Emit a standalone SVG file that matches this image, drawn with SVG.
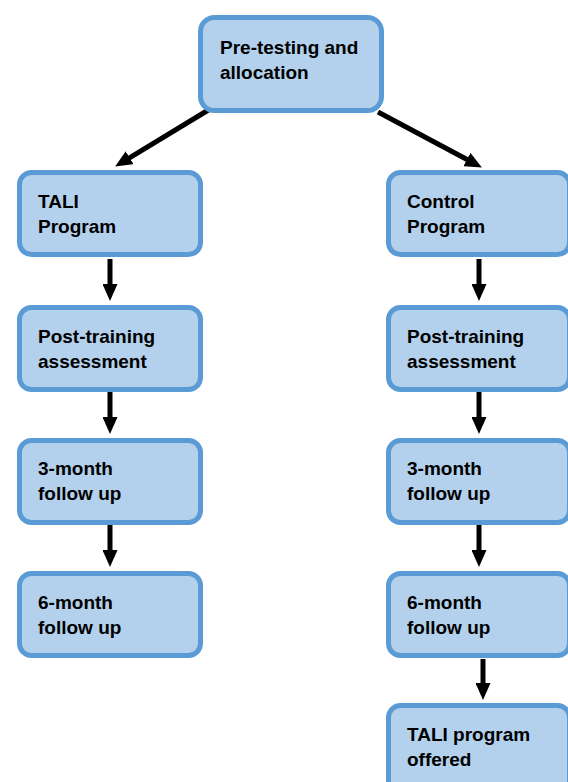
<svg xmlns="http://www.w3.org/2000/svg" width="568" height="782" viewBox="0 0 568 782">
<defs>
<style>
.box{fill:#b3d1ec;stroke:#5b9bd5;stroke-width:5}
.t{font-family:"Liberation Sans",Arial,sans-serif;font-weight:bold;font-size:19px;fill:#000}
.c{stroke:#000;stroke-width:5;fill:none}
</style>
<marker id="ah" markerWidth="3.4" markerHeight="3" refX="1.2" refY="1.5" orient="auto" markerUnits="strokeWidth">
<path d="M0,0 L3.4,1.5 L0,3 z" fill="#000"/>
</marker>
</defs>
<rect width="568" height="782" fill="#fff"/>
<g id="connectors">
<line class="c" x1="210" y1="109" x2="124.5" y2="160.8" marker-end="url(#ah)"/>
<line class="c" x1="378" y1="112" x2="472.2" y2="162.3" marker-end="url(#ah)"/>
<line class="c" x1="110" y1="259" x2="110" y2="290" marker-end="url(#ah)"/>
<line class="c" x1="110" y1="392" x2="110" y2="423" marker-end="url(#ah)"/>
<line class="c" x1="110" y1="525" x2="110" y2="556" marker-end="url(#ah)"/>
<line class="c" x1="479" y1="259" x2="479" y2="290" marker-end="url(#ah)"/>
<line class="c" x1="479" y1="392" x2="479" y2="423" marker-end="url(#ah)"/>
<line class="c" x1="479" y1="525" x2="479" y2="556" marker-end="url(#ah)"/>
<line class="c" x1="483" y1="659" x2="483" y2="689" marker-end="url(#ah)"/>
</g>
<g id="pretest">
<rect class="box" x="200.5" y="17.5" width="181" height="93" rx="14"/>
<text class="t" x="220" y="54">Pre-testing and</text>
<text class="t" x="220" y="79">allocation</text>
</g>
<g id="tali">
<rect class="box" x="19.5" y="172.5" width="181" height="82" rx="12"/>
<text class="t" x="38" y="208">TALI</text>
<text class="t" x="38" y="233">Program</text>
</g>
<g id="post-left">
<rect class="box" x="19.5" y="307.5" width="181" height="82" rx="12"/>
<text class="t" x="38" y="343">Post-training</text>
<text class="t" x="38" y="368">assessment</text>
</g>
<g id="m3-left">
<rect class="box" x="19.5" y="440.5" width="181" height="82" rx="12"/>
<text class="t" x="38" y="475">3-month</text>
<text class="t" x="38" y="500">follow up</text>
</g>
<g id="m6-left">
<rect class="box" x="19.5" y="573.5" width="181" height="82" rx="12"/>
<text class="t" x="38" y="609">6-month</text>
<text class="t" x="38" y="634">follow up</text>
</g>
<g id="control">
<rect class="box" x="388.5" y="172.5" width="181" height="82" rx="12"/>
<text class="t" x="407" y="208">Control</text>
<text class="t" x="407" y="233">Program</text>
</g>
<g id="post-right">
<rect class="box" x="388.5" y="307.5" width="181" height="82" rx="12"/>
<text class="t" x="407" y="343">Post-training</text>
<text class="t" x="407" y="368">assessment</text>
</g>
<g id="m3-right">
<rect class="box" x="388.5" y="440.5" width="181" height="82" rx="12"/>
<text class="t" x="407" y="475">3-month</text>
<text class="t" x="407" y="500">follow up</text>
</g>
<g id="m6-right">
<rect class="box" x="388.5" y="573.5" width="181" height="82" rx="12"/>
<text class="t" x="407" y="609">6-month</text>
<text class="t" x="407" y="634">follow up</text>
</g>
<g id="offered">
<rect class="box" x="388.5" y="705.5" width="181" height="90" rx="12"/>
<text class="t" x="407" y="741">TALI program</text>
<text class="t" x="407" y="766">offered</text>
</g>
</svg>
